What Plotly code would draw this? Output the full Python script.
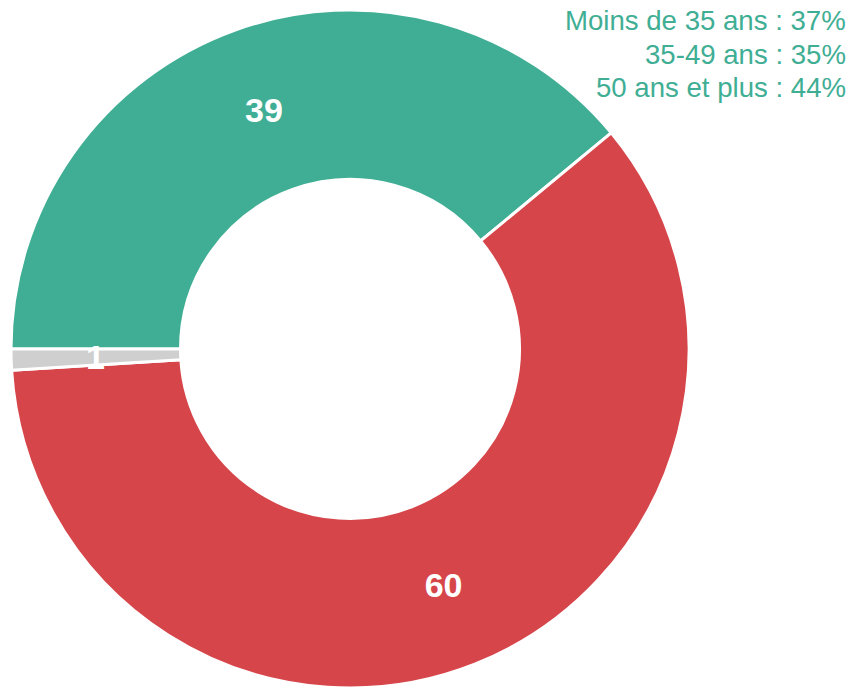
import math
import plotly.graph_objects as go

# Donut data
slice_labels = ["Oui", "Non", "Sans réponse"]
slice_values = [39, 60, 1]
slice_colors = ["#3FAE94", "#D6454A", "#CFCFCF"]

# Age breakdown text (top right)
age_groups = ["Moins de 35 ans", "35-49 ans", "50 ans et plus"]
age_pcts = [37, 35, 44]

W, H = 853, 688
HOLE = 0.5
ROTATION = 270
dom_x = [10 / W, 690 / W]
dom_y = [0, 678 / H]

label_font = dict(family="Liberation Sans, Arial, sans-serif", size=34, color="white", weight="bold")
GREEN = slice_colors[0]

# small slices get their label placed at mid-ring (plotly would push it to the rim)
positions = ["inside" if v >= 5 else "none" for v in slice_values]

fig = go.Figure(
    go.Pie(
        labels=slice_labels,
        values=slice_values,
        text=[str(v) for v in slice_values],
        textinfo="text",
        marker=dict(colors=slice_colors, line=dict(color="white", width=3)),
        hole=HOLE,
        sort=False,
        direction="clockwise",
        rotation=ROTATION,
        textposition=positions,
        insidetextorientation="horizontal",
        textfont=label_font,
        domain=dict(x=dom_x, y=dom_y),
        showlegend=False,
        hoverinfo="label+value",
    )
)

# labels for the small slices at mid-ring, derived from the data
total = sum(slice_values)
cx = (dom_x[0] + dom_x[1]) / 2 * W
cy = (dom_y[0] + dom_y[1]) / 2 * H  # from bottom
R = min((dom_x[1] - dom_x[0]) * W, (dom_y[1] - dom_y[0]) * H) / 2
r_mid = R * (1 + HOLE) / 2
cum = 0
for v, pos in zip(slice_values, positions):
    mid = cum + v / 2
    cum += v
    if pos != "none":
        continue
    ang = math.radians(ROTATION + 360 * mid / total)
    px = cx + r_mid * math.sin(ang)
    py = cy + r_mid * math.cos(ang)
    fig.add_annotation(
        text=str(v), x=px / W, y=py / H, xref="paper", yref="paper",
        xanchor="center", yanchor="middle", showarrow=False, font=label_font,
    )

# age breakdown lines, right aligned at the top right
line_centers = [19, 52.7, 86.4]
for g, p, yc in zip(age_groups, age_pcts, line_centers):
    fig.add_annotation(
        text=f"{g} : {p}%",
        xref="paper", yref="paper",
        x=847 / W, y=1 - (yc + 1.5) / H, xanchor="right", yanchor="middle",
        align="right", showarrow=False, borderpad=0,
        font=dict(family="Liberation Sans, Arial, sans-serif", size=27.6, color=GREEN),
    )

fig.update_layout(
    width=W, height=H,
    margin=dict(l=0, r=0, t=0, b=0),
    paper_bgcolor="white",
    plot_bgcolor="white",
)

fig.write_html(
    "out.html",
    config={"displayModeBar": False},
    post_script="document.body.style.margin='0';document.body.style.overflow='hidden';",
)
